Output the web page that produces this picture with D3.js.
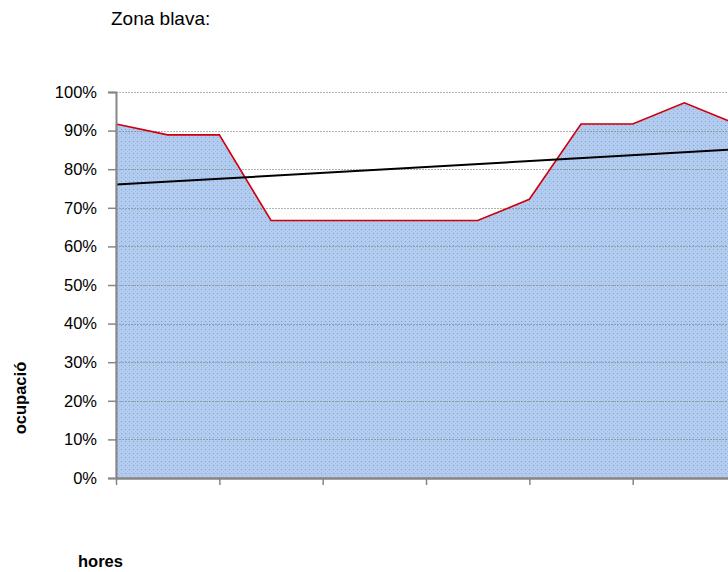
<!DOCTYPE html>
<html>
<head>
<meta charset="utf-8">
<script src="https://cdn.jsdelivr.net/npm/d3@7"></script>
<style>
  html, body { margin: 0; padding: 0; background: #fff; overflow: hidden; }
  svg { display: block; }
</style>
</head>
<body>
<svg id="chart" width="728" height="572"></svg>
<script>
// ---- data ----
const title = "Zona blava:";
const yLabel = "ocupació";
const xLabel = "hores";
const categories = ["1","2","3","4","5","6","7","8","9","10","11","12","13"];
const occupancy = [0.917, 0.889, 0.889, 0.667, 0.667, 0.667, 0.667, 0.667, 0.722, 0.917, 0.917, 0.972, 0.917];
const yTickValues = [0, 0.1, 0.2, 0.3, 0.4, 0.5, 0.6, 0.7, 0.8, 0.9, 1.0];

(function () {
// ---- layout ----
const svg = d3.select("#chart");
const plotLeft = 116, plotTop = 92, plotBottom = 478;
const step = 51.67;
const plotRight = plotLeft + step * (categories.length - 1);

const x = d3.scalePoint().domain(categories).range([plotLeft, plotRight]);
const y = d3.scaleLinear().domain([0, 1]).range([plotBottom, plotTop]);

// pattern
const defs = svg.append("defs");
const pat = defs.append("pattern").attr("id", "dots")
  .attr("patternUnits", "userSpaceOnUse").attr("width", 4).attr("height", 4);
pat.append("rect").attr("width", 4).attr("height", 4).attr("fill", "#b3ccee");
pat.append("rect").attr("x", 1).attr("y", 1).attr("width", 1).attr("height", 1).attr("fill", "#7aa3e2");
pat.append("rect").attr("x", 3).attr("y", 3).attr("width", 1).attr("height", 1).attr("fill", "#a2bfeb");

const data = categories.map((c, i) => ({ c, v: occupancy[i] }));

// area
const area = d3.area().x(d => x(d.c)).y0(y(0)).y1(d => y(d.v));
svg.append("path").datum(data).attr("d", area)
  .attr("fill", "url(#dots)").attr("stroke", "#e7a0a6").attr("stroke-width", 1);

// gridlines
svg.append("g").selectAll("line").data(yTickValues.filter(v => v > 0)).join("line")
  .attr("x1", plotLeft).attr("x2", 728)
  .attr("y1", d => Math.round(y(d)) + 0.5).attr("y2", d => Math.round(y(d)) + 0.5)
  .attr("stroke", "#7f7f7f").attr("stroke-opacity", 0.6)
  .attr("stroke-width", 1).attr("stroke-dasharray", "2,1");

// red top line
const line = d3.line().x(d => x(d.c)).y(d => y(d.v));
svg.append("path").datum(data).attr("d", line)
  .attr("fill", "none").attr("stroke", "#d00010").attr("stroke-width", 1.6);

// trend line (least squares)
const n = occupancy.length;
const xm = d3.mean(d3.range(n));
const ym = d3.mean(occupancy);
const slope = d3.sum(d3.range(n), i => (i - xm) * (occupancy[i] - ym)) / d3.sum(d3.range(n), i => (i - xm) ** 2);
const icpt = ym - slope * xm;
svg.append("line")
  .attr("x1", x(categories[0])).attr("y1", y(icpt))
  .attr("x2", x(categories[n - 1])).attr("y2", y(icpt + slope * (n - 1)))
  .attr("stroke", "#000").attr("stroke-width", 2);

// axes
const yAxis = svg.append("g").attr("transform", `translate(${plotLeft},0)`)
  .call(d3.axisLeft(y).tickValues(yTickValues).tickFormat(d3.format(".0%")).tickSize(8).tickPadding(11));
yAxis.select(".domain").attr("stroke", "#868686").attr("stroke-width", 2);
yAxis.selectAll(".tick line").attr("stroke", "#868686").attr("stroke-width", 1.5);
yAxis.selectAll(".tick text").attr("font-family", "Liberation Sans, Arial, sans-serif")
  .attr("font-size", "16.5px").attr("fill", "#000");

const xAxis = svg.append("g").attr("transform", `translate(0,${plotBottom})`)
  .call(d3.axisBottom(x).tickValues(categories.filter((c, i) => i % 2 === 0)).tickFormat("").tickSize(7).tickSizeOuter(0));
xAxis.select(".domain").attr("stroke", "#868686").attr("stroke-width", 2.5);
xAxis.selectAll(".tick line").attr("stroke", "#868686").attr("stroke-width", 1.5);

// texts
svg.append("text").attr("x", 111).attr("y", 25).text(title)
  .attr("font-family", "Liberation Sans, Arial, sans-serif").attr("font-size", "19px").attr("fill", "#000");
svg.append("text").attr("x", 78).attr("y", 567).text(xLabel)
  .attr("font-family", "Liberation Sans, Arial, sans-serif").attr("font-weight", "bold")
  .attr("font-size", "16.5px").attr("fill", "#000");
svg.append("text").attr("transform", "translate(26,398) rotate(-90)").attr("text-anchor", "middle")
  .text(yLabel)
  .attr("font-family", "Liberation Sans, Arial, sans-serif").attr("font-weight", "bold")
  .attr("font-size", "16.5px").attr("fill", "#000");
})();
</script>
</body>
</html>
